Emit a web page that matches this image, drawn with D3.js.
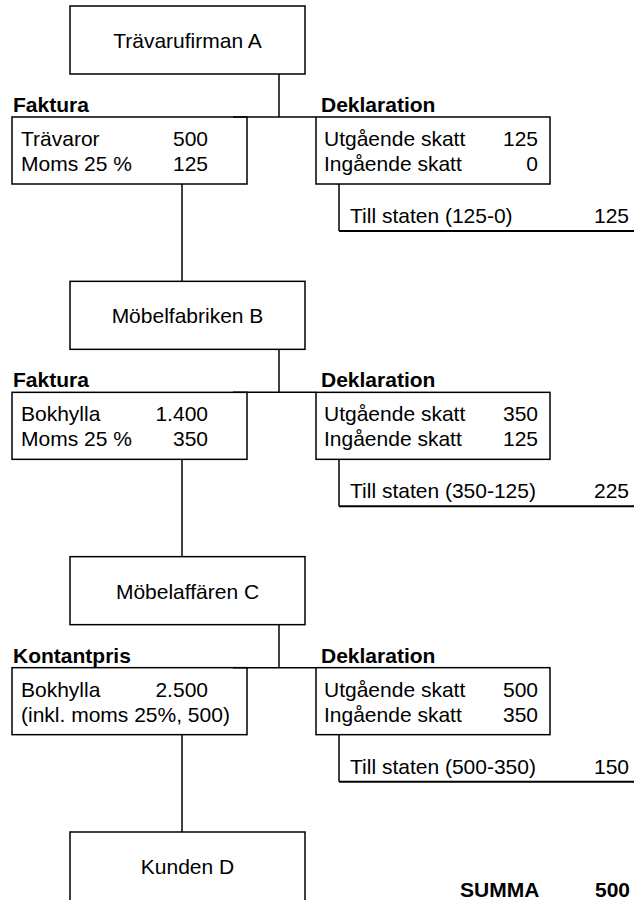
<!DOCTYPE html>
<html>
<head>
<meta charset="utf-8">
<script src="https://cdn.jsdelivr.net/npm/d3@7"></script>
<style>
  body { margin: 0; background: #fff; }
  text { font-family: "Liberation Sans", Arial, sans-serif; font-size: 21px; fill: #000; }
  .bold { font-weight: bold; }
</style>
</head>
<body>
<div id="chart"></div>
<script>
const w = 634;
const h = 900;

// data
const entities = ['Trävarufirman A', 'Möbelfabriken B', 'Möbelaffären C', 'Kunden D'];
const invoiceTitles = ['Faktura', 'Faktura', 'Kontantpris'];
const invoiceItems = ['Trävaror', 'Bokhylla', 'Bokhylla'];
const invoiceAmounts = ['500', '1.400', '2.500'];
const vatLabels = ['Moms 25 %', 'Moms 25 %', '(inkl. moms 25%, 500)'];
const vatAmounts = ['125', '350', ''];
const outputTax = [125, 350, 500];
const inputTax = [0, 125, 350];
const toState = [125, 225, 150];
const summa = 500;

const blockY = d3.scaleLinear().domain([0, 3]).range([6, 832]);

const svg = d3.select('#chart')
  .append('svg')
  .attr('width', w)
  .attr('height', h);

const line = (x1, y1, x2, y2, sw) => svg.append('line')
  .attr('x1', x1).attr('y1', y1).attr('x2', x2).attr('y2', y2)
  .attr('stroke', '#000').attr('stroke-width', sw || 1.5);

// company boxes
svg.selectAll('rect.entity')
  .data(entities)
  .enter()
  .append('rect')
  .attr('class', 'entity')
  .attr('x', 70)
  .attr('y', (d, i) => blockY(i))
  .attr('width', 235)
  .attr('height', (d, i) => i === 3 ? 80 : 68)
  .attr('fill', 'none')
  .attr('stroke', '#000')
  .attr('stroke-width', 1.5);

svg.selectAll('text.entity')
  .data(entities)
  .enter()
  .append('text')
  .attr('class', 'entity')
  .attr('x', 187.5)
  .attr('y', (d, i) => blockY(i) + 42)
  .attr('text-anchor', 'middle')
  .text(d => d);

const fmt = v => String(v);

invoiceTitles.forEach((title, i) => {
  const t = blockY(i);
  const top = t + 111;
  const bot = t + 178;

  // connectors
  line(279, t + 68, 279, top);
  line(233, top, 316, top);
  line(182, bot, 182, blockY(i + 1));

  // invoice box
  svg.append('rect').attr('x', 12).attr('y', top).attr('width', 235).attr('height', bot - top)
    .attr('fill', 'none').attr('stroke', '#000').attr('stroke-width', 1.5);
  svg.append('text').attr('class', 'bold').attr('x', 13).attr('y', t + 106).text(title);
  svg.append('text').attr('x', 21).attr('y', t + 140).text(invoiceItems[i]);
  svg.append('text').attr('x', 208).attr('y', t + 140).attr('text-anchor', 'end').text(invoiceAmounts[i]);
  svg.append('text').attr('x', 21).attr('y', t + 165).text(vatLabels[i]);
  svg.append('text').attr('x', 208).attr('y', t + 165).attr('text-anchor', 'end').text(vatAmounts[i]);

  // declaration box
  svg.append('rect').attr('x', 316).attr('y', top).attr('width', 234).attr('height', bot - top)
    .attr('fill', 'none').attr('stroke', '#000').attr('stroke-width', 1.5);
  svg.append('text').attr('class', 'bold').attr('x', 321).attr('y', t + 106).text('Deklaration');
  svg.append('text').attr('x', 324).attr('y', t + 140).text('Utgående skatt');
  svg.append('text').attr('x', 538).attr('y', t + 140).attr('text-anchor', 'end').text(fmt(outputTax[i]));
  svg.append('text').attr('x', 324).attr('y', t + 165).text('Ingående skatt');
  svg.append('text').attr('x', 538).attr('y', t + 165).attr('text-anchor', 'end').text(fmt(inputTax[i]));

  // to the state
  line(339, bot, 339, t + 225);
  line(339, t + 225, 634, t + 225, 2);
  svg.append('text').attr('x', 350).attr('y', t + 217)
    .text('Till staten (' + outputTax[i] + '-' + inputTax[i] + ')');
  svg.append('text').attr('x', 629).attr('y', t + 217).attr('text-anchor', 'end').text(fmt(toState[i]));
});

svg.append('text').attr('class', 'bold').attr('x', 460).attr('y', 897).text('SUMMA');
svg.append('text').attr('class', 'bold').attr('x', 630).attr('y', 897).attr('text-anchor', 'end').text(fmt(summa));
</script>
</body>
</html>
